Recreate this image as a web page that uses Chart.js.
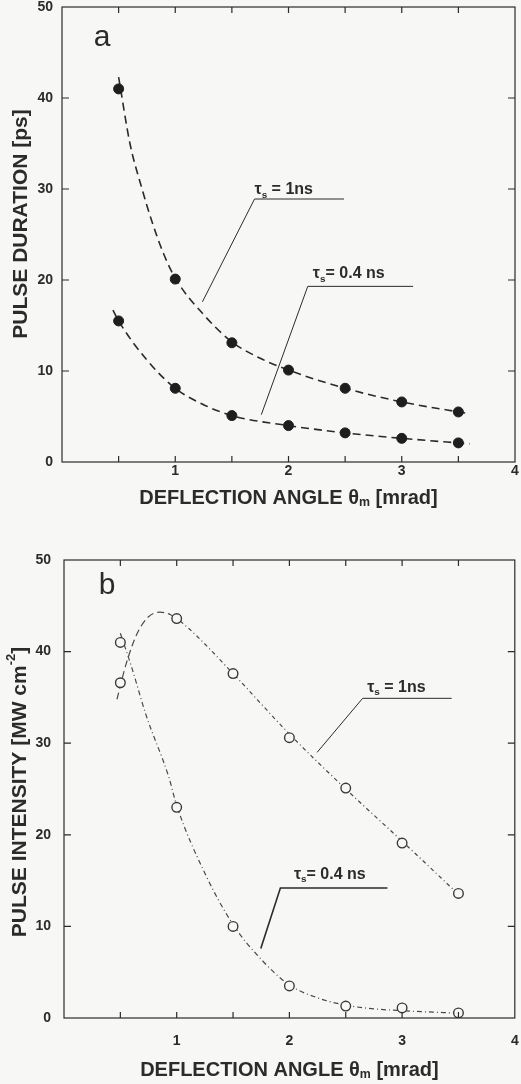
<!DOCTYPE html>
<html>
<head>
<meta charset="utf-8">
<script src="https://cdn.jsdelivr.net/npm/chart.js@4.4.1/dist/chart.umd.min.js"></script>
<style>
  html, body { margin: 0; padding: 0; background: #f7f7f5; }
  #wrap { position: relative; width: 521px; height: 1084px; overflow: hidden; }
  canvas { position: absolute; left: 0; }
  #c1 { top: 0; }
  #c2 { top: 540px; }
</style>
</head>
<body>
<div id="wrap">
  <canvas id="c1" width="521" height="540"></canvas>
  <canvas id="c2" width="521" height="544"></canvas>
</div>
<script>
// measured points (deflection angle in mrad)
const angles = [0.5, 1, 1.5, 2, 2.5, 3, 3.5];
const durationTs1 = [41.0, 20.1, 13.1, 10.1, 8.1, 6.6, 5.5];
const durationTs04 = [15.5, 8.1, 5.1, 4.0, 3.2, 2.6, 2.1];
const intensityTs1 = [36.6, 43.6, 37.6, 30.6, 25.1, 19.1, 13.6];
const intensityTs04 = [41.0, 23.0, 10.0, 3.5, 1.3, 1.1, 0.55];

// fitted curves
const fitDurX1 = [0.5, 0.6, 0.7, 0.8, 0.9, 1, 1.25, 1.5, 1.75, 2, 2.5, 3, 3.6];
const fitDur1 = [42.3, 35, 30.3, 26.2, 22.8, 20.2, 16.2, 13.2, 11.4, 10.1, 8.1, 6.6, 5.3];
const fitDurX04 = [0.45, 0.5, 0.75, 1, 1.25, 1.5, 2, 2.5, 3, 3.6];
const fitDur04 = [16.7, 15.5, 11.2, 8.1, 6.3, 5.1, 4.0, 3.2, 2.6, 2.0];
const fitIntX1 = [0.47, 0.55, 0.65, 0.75, 0.85, 0.95, 1.1, 1.5, 2, 2.5, 3, 3.5];
const fitInt1 = [34.8, 38.6, 42.0, 43.8, 44.3, 44.0, 42.6, 37.6, 31.0, 25.0, 19.3, 13.5];
const fitIntX04 = [0.5, 0.6, 0.73, 0.93, 1, 1.25, 1.5, 1.75, 2, 2.25, 2.5, 2.75, 3, 3.55];
const fitInt04 = [42.0, 38.3, 33.0, 26.3, 23.2, 15.8, 10.2, 6.4, 3.6, 2.2, 1.4, 1.0, 0.8, 0.5];

const xTickLabels = ['', '1', '2', '3', '4'];
const yTickLabels = ['0', '10', '20', '30', '40', '50'];

const INK = '#2b2b2b';
const BG = '#f7f7f5';
const FAMILY = '"Liberation Sans", Arial, sans-serif';

const pts = (xs, ys) => xs.map((x, i) => ({ x, y: ys[i] }));

function drawRich(ctx, parts, x, y, size, weight) {
  for (const p of parts) {
    const s = (p.sub || p.sup) ? size * 0.62 : size;
    ctx.font = `${weight} ${s}px ${FAMILY}`;
    const dy = p.sub ? size * 0.22 : p.sup ? -size * 0.42 : 0;
    ctx.fillText(p.t, x, y + dy);
    x += ctx.measureText(p.t).width;
  }
}
function richWidth(ctx, parts, size, weight) {
  let w = 0;
  for (const p of parts) {
    const s = (p.sub || p.sup) ? size * 0.62 : size;
    ctx.font = `${weight} ${s}px ${FAMILY}`;
    w += ctx.measureText(p.t).width;
  }
  return w;
}

// frame, inner ticks, titles and the leader-line labels
const framePlugin = {
  id: 'frame',
  afterDatasetsDraw(chart, args, o) {
    const { ctx, chartArea: a, scales: { x, y } } = chart;
    ctx.save();
    ctx.strokeStyle = INK;
    ctx.fillStyle = INK;
    ctx.lineWidth = 1.2;
    ctx.strokeRect(a.left, a.top, a.right - a.left, a.bottom - a.top);
    ctx.beginPath();
    for (let v = 0.5; v < 4; v += 0.5) {
      const px = x.getPixelForValue(v);
      ctx.moveTo(px, a.bottom); ctx.lineTo(px, a.bottom - 6);
      ctx.moveTo(px, a.top); ctx.lineTo(px, a.top + 6);
    }
    for (let v = 10; v < 50; v += 10) {
      const py = y.getPixelForValue(v);
      ctx.moveTo(a.left, py); ctx.lineTo(a.left + 7, py);
      ctx.moveTo(a.right, py); ctx.lineTo(a.right - 7, py);
    }
    ctx.stroke();

    // leader lines + labels
    for (const n of o.notes) {
      ctx.lineWidth = n.lw || 1;
      ctx.beginPath();
      n.line.forEach(([vx, vy], i) => {
        const px = x.getPixelForValue(vx), py = y.getPixelForValue(vy);
        i ? ctx.lineTo(px, py) : ctx.moveTo(px, py);
      });
      ctx.stroke();
      ctx.textBaseline = 'alphabetic';
      ctx.textAlign = 'left';
      drawRich(ctx, n.text, x.getPixelForValue(n.at[0]), y.getPixelForValue(n.at[1]), 16, 'bold');
    }

    // axis titles
    ctx.textBaseline = 'middle';
    ctx.textAlign = 'left';
    const xw = richWidth(ctx, o.xTitle, 20, 'bold');
    drawRich(ctx, o.xTitle, (a.left + a.right) / 2 - xw / 2, o.xTitleY, 20, 'bold');
    ctx.save();
    ctx.translate(o.yTitleX, o.yTitleY);
    ctx.rotate(-Math.PI / 2);
    const yw = richWidth(ctx, o.yTitle, 21, 'bold');
    drawRich(ctx, o.yTitle, -yw / 2, 0, 21, 'bold');
    ctx.restore();

    // panel letter
    ctx.font = `30px ${FAMILY}`;
    ctx.textAlign = 'center';
    ctx.fillText(o.letter, o.letterAt[0], o.letterAt[1]);
    ctx.restore();
  }
};

const xTitle = [{ t: 'DEFLECTION ANGLE \u03b8' }, { t: 'm', sub: true }, { t: ' [mrad]' }];

function makeChart(id, cfg) {
  const H = document.getElementById(id).height;
  return new Chart(document.getElementById(id), {
    type: 'scatter',
    data: { datasets: cfg.datasets },
    options: {
      responsive: false,
      animation: false,
      events: [],
      layout: { padding: { top: cfg.top, right: cfg.right, left: 0, bottom: 0 } },
      plugins: { legend: { display: false }, tooltip: { enabled: false }, frame: cfg.frame },
      scales: {
        x: {
          type: 'linear', min: 0, max: 4,
          grid: { display: false, drawTicks: false }, border: { display: false },
          ticks: {
            stepSize: 1, padding: cfg.xPad, color: INK,
            font: { family: FAMILY, size: 14, weight: 'bold' },
            callback: v => xTickLabels[v] ?? ''
          },
          afterFit: s => { s.height = H - cfg.bottom; s.paddingLeft = 0; s.paddingRight = 0; }
        },
        y: {
          type: 'linear', min: 0, max: 50,
          grid: { display: false, drawTicks: false }, border: { display: false },
          ticks: {
            stepSize: 10, padding: cfg.yPad, color: INK,
            font: { family: FAMILY, size: 14, weight: 'bold' },
            callback: v => yTickLabels[v / 10] ?? ''
          },
          afterFit: s => { s.width = cfg.left; s.paddingTop = 0; s.paddingBottom = 0; }
        }
      }
    },
    plugins: [framePlugin]
  });
}

const filled = { showLine: false, pointRadius: 5, pointBackgroundColor: '#1e1e1e', pointBorderColor: '#1e1e1e', pointBorderWidth: 1 };
const open = { showLine: false, pointRadius: 4.8, pointBackgroundColor: BG, pointBorderColor: '#3a3a3a', pointBorderWidth: 1.4 };
const fitLine = { showLine: true, pointRadius: 0, cubicInterpolationMode: 'monotone', fill: false };

// panel a: pulse duration
makeChart('c1', {
  top: 7, right: 4, left: 62, bottom: 462, xPad: 1, yPad: 9,
  datasets: [
    { ...filled, data: pts(angles, durationTs1) },
    { ...filled, data: pts(angles, durationTs04) },
    { ...fitLine, data: pts(fitDurX1, fitDur1), borderColor: '#2a2a2a', borderWidth: 1.6, borderDash: [8, 5] },
    { ...fitLine, data: pts(fitDurX04, fitDur04), borderColor: '#2a2a2a', borderWidth: 1.6, borderDash: [8, 5] }
  ],
  frame: {
    xTitle, xTitleY: 498,
    yTitle: [{ t: 'PULSE DURATION [ps]' }], yTitleX: 21, yTitleY: 224,
    letter: 'a', letterAt: [102, 38],
    notes: [
      { line: [[1.24, 17.6], [1.70, 28.9], [2.49, 28.9]], text: [{ t: '\u03c4' }, { t: 's', sub: true }, { t: ' = 1ns' }], at: [1.70, 29.45] },
      { line: [[1.76, 5.2], [2.17, 19.3], [3.10, 19.3]], text: [{ t: '\u03c4' }, { t: 's', sub: true }, { t: '= 0.4 ns' }], at: [2.215, 20.2] }
    ]
  }
});

// panel b: pulse intensity
makeChart('c2', {
  top: 20, right: 1, left: 64, bottom: 478, xPad: 15, yPad: 13,
  datasets: [
    { ...open, data: pts(angles, intensityTs1) },
    { ...open, data: pts(angles, intensityTs04) },
    { ...fitLine, data: pts(fitIntX1, fitInt1), borderColor: '#4a4a4a', borderWidth: 1.2,
      segment: { borderDash: c => c.p0.parsed.x < 0.95 ? [7, 4] : [4, 3, 1, 3] } },
    { ...fitLine, data: pts(fitIntX04, fitInt04), borderColor: '#4a4a4a', borderWidth: 1.2, borderDash: [5, 3, 1, 3] }
  ],
  frame: {
    xTitle, xTitleY: 530,
    yTitle: [{ t: 'PULSE INTENSITY [MW cm' }, { t: '-2', sup: true }, { t: ']' }], yTitleX: 20, yTitleY: 252,
    letter: 'b', letterAt: [107, 46],
    notes: [
      { line: [[2.246, 29.0], [2.65, 34.9], [3.44, 34.9]], text: [{ t: '\u03c4' }, { t: 's', sub: true }, { t: ' = 1ns' }], at: [2.69, 35.6] },
      { line: [[1.746, 7.6], [1.92, 14.2], [2.87, 14.2]], lw: 1.6, text: [{ t: '\u03c4' }, { t: 's', sub: true }, { t: '= 0.4 ns' }], at: [2.04, 15.2] }
    ]
  }
});
</script>
</body>
</html>
